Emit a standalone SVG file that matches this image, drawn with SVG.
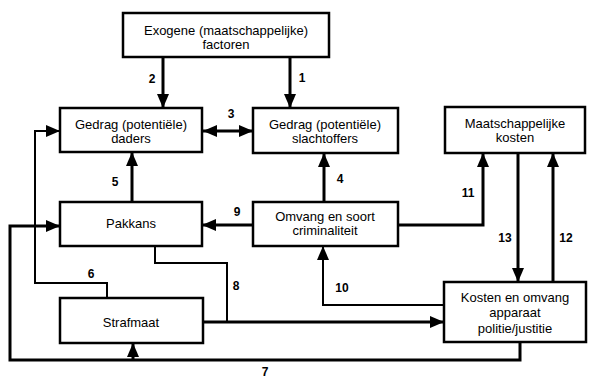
<svg xmlns="http://www.w3.org/2000/svg" width="589" height="379" viewBox="0 0 589 379">
<style>
.box{fill:#fff;stroke:#000;stroke-width:2.5}
.t{font-family:"Liberation Sans",Arial,sans-serif;font-size:13px;fill:#000;text-anchor:middle}
.n{font-family:"Liberation Sans",Arial,sans-serif;font-size:12px;font-weight:bold;fill:#000;text-anchor:middle}
.c{fill:none;stroke:#000;stroke-width:3;stroke-linejoin:miter}
.c2{fill:none;stroke:#000;stroke-width:2;stroke-linejoin:miter}
</style>
<defs>
<marker id="ah" markerUnits="userSpaceOnUse" markerWidth="14" markerHeight="12" refX="14" refY="6" orient="auto-start-reverse" viewBox="0 0 14 12">
<path d="M0,0 L14,6 L0,12 z" fill="#000"/>
</marker>
</defs>
<rect width="589" height="379" fill="#fff"/>
<g id="connectors">
<line class="c" x1="163" y1="57" x2="163" y2="108" marker-end="url(#ah)"/>
<line class="c" x1="290" y1="57" x2="290" y2="108" marker-end="url(#ah)"/>
<line class="c" x1="203" y1="131" x2="253" y2="131" marker-start="url(#ah)" marker-end="url(#ah)"/>
<line class="c" x1="132" y1="202" x2="132" y2="152" marker-end="url(#ah)"/>
<line class="c" x1="324" y1="202" x2="324" y2="153" marker-end="url(#ah)"/>
<line class="c" x1="253" y1="225" x2="202" y2="225" marker-end="url(#ah)"/>
<polyline class="c" points="398,225 483,225 483,153" marker-end="url(#ah)"/>
<line class="c" x1="518" y1="153" x2="518" y2="282" marker-end="url(#ah)"/>
<line class="c" x1="553" y1="282" x2="553" y2="153" marker-end="url(#ah)"/>
<polyline class="c2" points="444,305 323,305 323,246" marker-end="url(#ah)"/>
<polyline class="c2" points="155,246 155,263 227,263 227,322"/>
<line class="c" x1="203" y1="322" x2="444" y2="322" marker-end="url(#ah)"/>
<polyline class="c2" points="107,298 107,283 35,283 35,131 60,131" marker-end="url(#ah)"/>
<polyline class="c" points="520,342 520,360 10,360 10,226 60,226" marker-end="url(#ah)"/>
<line class="c" x1="133" y1="360" x2="133" y2="343" marker-end="url(#ah)"/>
<text class="n" x="152" y="83">2</text>
<text class="n" x="302" y="82">1</text>
<text class="n" x="231" y="118">3</text>
<text class="n" x="115" y="186">5</text>
<text class="n" x="340" y="183">4</text>
<text class="n" x="237" y="216">9</text>
<text class="n" x="468" y="197">11</text>
<text class="n" x="505" y="242">13</text>
<text class="n" x="566" y="242">12</text>
<text class="n" x="342" y="292">10</text>
<text class="n" x="236" y="290">8</text>
<text class="n" x="91" y="278">6</text>
<text class="n" x="265" y="376">7</text>
</g>
<g id="exogene">
<rect class="box" x="123" y="13" width="206" height="44"/>
<text class="t" x="226" y="35">Exogene (maatschappelijke)</text>
<text class="t" x="226" y="49">factoren</text>
</g>
<g id="daders">
<rect class="box" x="60" y="108" width="142" height="44"/>
<text class="t" x="131" y="129">Gedrag (potentiële)</text>
<text class="t" x="131" y="143">daders</text>
</g>
<g id="slachtoffers">
<rect class="box" x="253" y="108" width="145" height="45"/>
<text class="t" x="325" y="129">Gedrag (potentiële)</text>
<text class="t" x="325" y="143">slachtoffers</text>
</g>
<g id="maatschappelijke-kosten">
<rect class="box" x="445" y="107" width="140" height="46"/>
<text class="t" x="515" y="128">Maatschappelijke</text>
<text class="t" x="515" y="142">kosten</text>
</g>
<g id="pakkans">
<rect class="box" x="60" y="202" width="142" height="44"/>
<text class="t" x="131" y="228">Pakkans</text>
</g>
<g id="omvang">
<rect class="box" x="253" y="202" width="145" height="44"/>
<text class="t" x="325" y="221">Omvang en soort</text>
<text class="t" x="325" y="235">criminaliteit</text>
</g>
<g id="strafmaat">
<rect class="box" x="60" y="298" width="143" height="45"/>
<text class="t" x="131" y="327">Strafmaat</text>
</g>
<g id="kosten-apparaat">
<rect class="box" x="444" y="282" width="142" height="60"/>
<text class="t" x="515" y="302">Kosten en omvang</text>
<text class="t" x="515" y="317">apparaat</text>
<text class="t" x="515" y="333">politie/justitie</text>
</g>
</svg>
